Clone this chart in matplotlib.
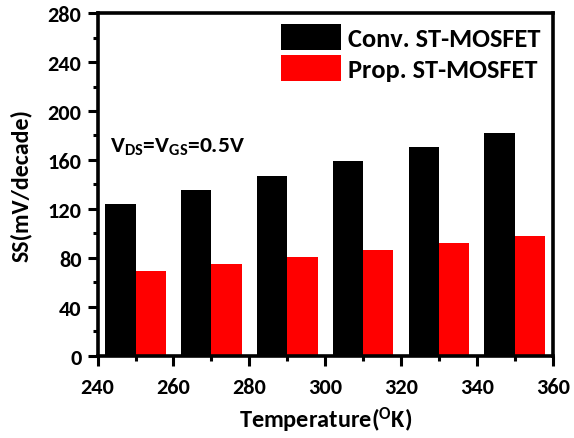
import matplotlib
matplotlib.use("Agg")
import matplotlib.pyplot as plt
from matplotlib.ticker import MultipleLocator

temps = [250, 270, 290, 310, 330, 350]
conv_ss = [124, 135.5, 147, 159, 171, 182]
prop_ss = [69.5, 75, 81, 86.5, 92, 98]
series_labels = ["Conv. ST-MOSFET", "Prop. ST-MOSFET"]

plt.rcParams['font.family'] = ['Carlito', 'DejaVu Sans']
plt.rcParams['font.weight'] = 'bold'
plt.rcParams['mathtext.fontset'] = 'custom'
plt.rcParams['mathtext.rm'] = 'Carlito:bold'
plt.rcParams['mathtext.it'] = 'Carlito:bold'
plt.rcParams['mathtext.bf'] = 'Carlito:bold'

fig = plt.figure(figsize=(5.74, 4.39), dpi=100)
ax = fig.add_axes([0.170, 0.187, 0.793, 0.781])

w = 8
ax.bar(temps, conv_ss, width=-w, align='edge', color='black', label=series_labels[0])
ax.bar(temps, prop_ss, width=w, align='edge', color='red', label=series_labels[1])

ax.set_xlim(240, 360)
ax.set_ylim(0, 280)
ax.xaxis.set_major_locator(MultipleLocator(20))
ax.xaxis.set_minor_locator(MultipleLocator(10))
ax.yaxis.set_major_locator(MultipleLocator(40))
ax.yaxis.set_minor_locator(MultipleLocator(20))

for s in ax.spines.values():
    s.set_linewidth(2.6)
ax.tick_params(which='major', direction='out', length=7.5, width=2.2, labelsize=16, pad=4)
ax.tick_params(which='minor', direction='out', length=3.5, width=2.2)
ax.tick_params(axis='x', which='major', pad=8)
ax.tick_params(top=False, right=False, which='both')
for lab in ax.get_xticklabels() + ax.get_yticklabels():
    lab.set_fontweight('bold')

ax.set_ylabel('SS(mV/decade)', fontsize=17.2, fontweight='bold', labelpad=11)
ax.set_xlabel(r'Temperature($^{\mathregular{O}}$K)', fontsize=17.5, fontweight='bold', labelpad=5)

ax.text(0.027, 0.595, r'V$_{\mathregular{DS}}$=V$_{\mathregular{GS}}$=0.5V', transform=ax.transAxes,
        fontsize=16.9, fontweight='bold', va='baseline', ha='left')

leg = ax.legend(loc='upper left', bbox_to_anchor=(0.404, 0.968), frameon=False,
                borderpad=0, borderaxespad=0, handlelength=2.27, handleheight=1.14,
                handletextpad=0.24, labelspacing=0.18, prop={'size': 19, 'weight': 'bold'})

fig.savefig('out.png', dpi=100)
